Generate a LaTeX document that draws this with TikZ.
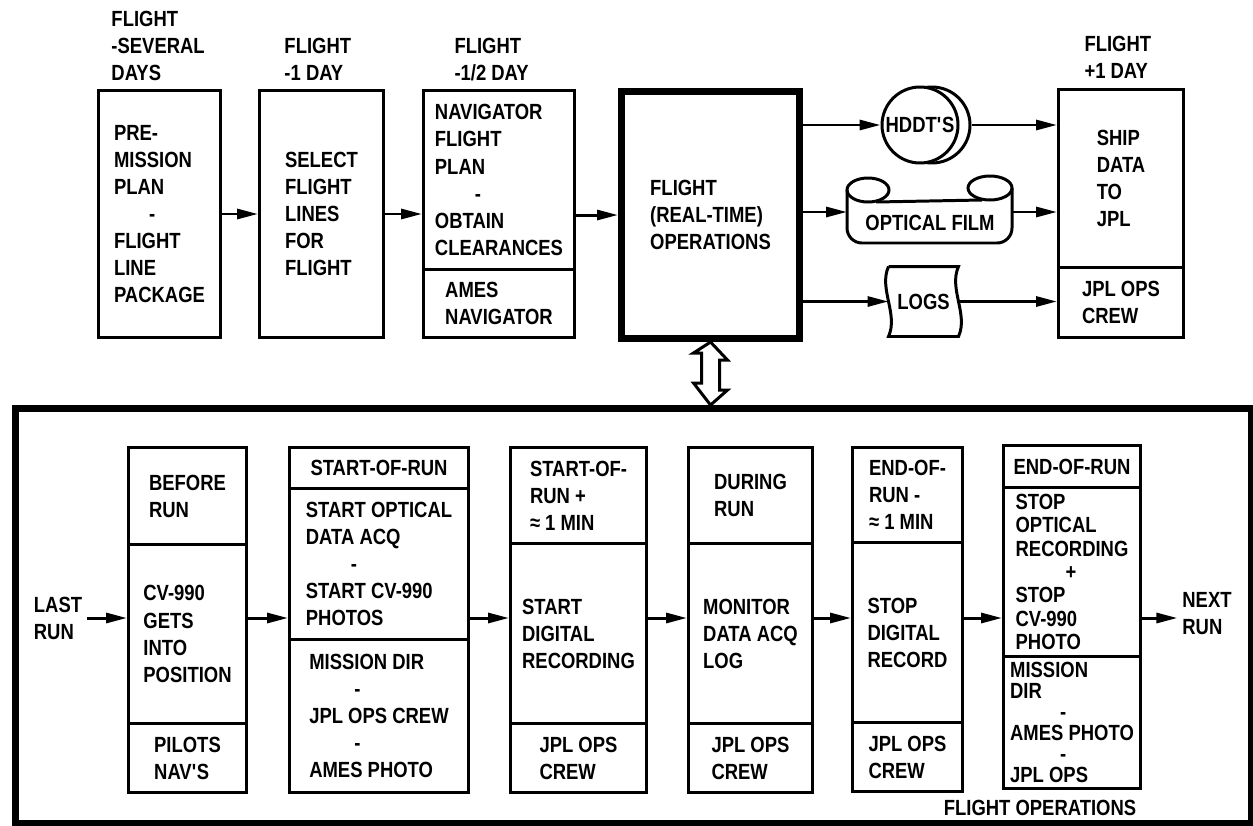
\documentclass[tikz,border=0pt]{standalone}
\usepackage{fontspec}
\setmainfont{Liberation Sans}[FakeStretch=0.84]
\usetikzlibrary{arrows.meta}

\newcommand\upx{0.02cm}

\tikzset{
  cell/.style 2 args={draw,anchor=north west,minimum width=#1*\upx,
    minimum height=#2*\upx,inner sep=0pt,align=left},
  when/.style={align=left,anchor=north west,inner sep=0pt},
  lbl/.style={align=left,inner sep=2pt},
  arr/.style={-{Triangle[length=.42cm,width=.2cm]}},
}

\begin{document}
\begin{tikzpicture}[x=.02cm,y=-.02cm,line width=1.7pt,
    font=\fontsize{12.5}{15.4}\selectfont\bfseries]
  \useasboundingbox (0,0) rectangle (1253,825);
  % Preparation before the flight, one box per stage.
  \node[when] (t1) at (110,10) {FLIGHT\\-SEVERAL\\DAYS};
  \node[when] (t2) at (283,37) {FLIGHT\\-1 DAY};
  \node[when] (t3) at (453,37) {FLIGHT\\-1/2 DAY};
  \node[when] (t5) at (1083,35) {FLIGHT\\+1 DAY};
  \node[cell={122}{247}] (prem) at (97,89)
    {PRE-\\MISSION\\PLAN\\\hspace*{.7cm}-\\FLIGHT\\LINE\\PACKAGE};
  \node[cell={124}{247}] (sel) at (258,89) {SELECT\\FLIGHT\\LINES\\FOR\\FLIGHT};
  \node[cell={151}{179}] (nav) at (422,89)
    {NAVIGATOR\\FLIGHT\\PLAN\\\hspace*{.8cm}-\\OBTAIN\\CLEARANCES};
  \node[cell={151}{68}] (navby) at (422,268) {AMES\\NAVIGATOR};
  \node[cell={178}{247},line width=4pt] (ops) at (618,88)
    {FLIGHT\\(REAL-TIME)\\OPERATIONS};
  \node[cell={125}{178}] (ship) at (1057,88) {SHIP\\DATA\\TO\\JPL};
  \node[cell={125}{70}] (shipby) at (1057,266) {JPL OPS\\CREW};
  % The recorded media.
  \node[circle,draw,minimum size=76*\upx] (hddtback) at (932,125) {};
  \node[circle,draw,fill=white,minimum size=76*\upx,inner sep=0pt] (hddt)
    at (920,125) {HDDT\textquotesingle S};
  \draw[rounded corners=.3cm] (847,190) -- (847,243) -- (1012,243) -- (1012,188);
  \draw (868,190) ellipse [x radius=21,y radius=12];
  \draw (990,188) ellipse [x radius=22,y radius=12];
  \draw (876,202) -- (982,200);
  \node (film) at (930,223) {OPTICAL FILM};
  \coordinate (filmin) at (847,212);
  \coordinate (filmout) at (1012,212);
  \node[minimum width=67*\upx,minimum height=67*\upx] (logs) at (923.5,301.5) {LOGS};
  \draw (logs.north west) -- (logs.north east)
    .. controls +(-10,22) and +(10,-22) .. (logs.south east) -- (logs.south west)
    .. controls +(10,-22) and +(-10,22) .. (logs.north west);
  \draw[arr] (prem) -- (sel);
  \draw[arr] (sel.east) -- (sel.east -| nav.west);
  \draw[arr] (nav.east |- ops.west) -- (ops.west);
  \draw[arr] (ops.east |- hddt.west) -- (hddt.west);
  \draw[arr] (ops.east |- filmin) -- (filmin);
  \draw[arr] (ops.east |- logs.west) -- (logs.west);
  \draw[arr] (hddtback.east) -- (hddtback.east -| ship.west);
  \draw[arr] (filmout) -- (filmout -| ship.west);
  \draw[arr] (logs.east) -- (logs.east -| shipby.west);
  % One run of the flight, inside the big frame.
  \node[cell={1236}{415},line width=4pt] (runs) at (12,405) {};
  \draw[fill=white] (ops.south) -- ++(17,18) -- ++(-8,0) -- ++(0,30) -- ++(8,0)
    -- (runs.north -| ops.south) -- ++(-17,-22) -- ++(8,0) -- ++(0,-30)
    -- ++(-8,0) -- cycle;
  \node[cell={118}{97}] (b1top) at (127,446) {BEFORE\\RUN};
  \node[cell={118}{179}] (b1mid) at (127,543) {CV-990\\GETS\\INTO\\POSITION};
  \node[cell={118}{69}] (b1bot) at (127,722) {PILOTS\\NAV\textquotesingle S};
  \node[cell={179}{41}] (b2top) at (288,446) {START-OF-RUN};
  \node[cell={179}{151}] (b2mid) at (288,487)
    {START OPTICAL\\DATA ACQ\\\hspace*{.9cm}-\\START CV-990\\PHOTOS};
  \node[cell={179}{153}] (b2bot) at (288,638)
    {MISSION DIR\\\hspace*{.9cm}-\\JPL OPS CREW\\\hspace*{.9cm}-\\AMES PHOTO};
  \node[cell={136}{96}] (b3top) at (509,446) {START-OF-\\RUN +\\≈ 1 MIN};
  \node[cell={136}{180}] (b3mid) at (509,542) {START\\DIGITAL\\RECORDING};
  \node[cell={136}{69}] (b3bot) at (509,722) {JPL OPS\\CREW};
  \node[cell={124}{96}] (b4top) at (687,446) {DURING\\RUN};
  \node[cell={124}{180}] (b4mid) at (687,542) {MONITOR\\DATA ACQ\\LOG};
  \node[cell={124}{69}] (b4bot) at (687,722) {JPL OPS\\CREW};
  \node[cell={110}{95}] (b5top) at (851,446) {END-OF-\\RUN -\\≈ 1 MIN};
  \node[cell={110}{180}] (b5mid) at (851,541) {STOP\\DIGITAL\\RECORD};
  \node[cell={110}{69}] (b5bot) at (851,721) {JPL OPS\\CREW};
  \node[cell={137}{42}] (b6top) at (1002,444) {END-OF-RUN};
  \node[cell={137}{169},font=\fontsize{12.5}{13.3}\selectfont\bfseries] (b6mid)
    at (1002,486) {STOP\\OPTICAL\\RECORDING\\\hspace*{1cm}+\\STOP\\CV-990\\PHOTO};
  \node[cell={137}{132},font=\fontsize{12.5}{12}\selectfont\bfseries] (b6bot)
    at (1002,655) {MISSION\\DIR\\\hspace*{1cm}-\\AMES PHOTO\\\hspace*{1cm}-\\JPL OPS};
  \node[lbl] (lastrun) at (58,618) {LAST\\RUN};
  \node[lbl] (nextrun) at (1207,614) {NEXT\\RUN};
  \node (caption) at (1040,808) {FLIGHT OPERATIONS};
  \draw[arr] (lastrun.east) -- (lastrun.east -| b1mid.west);
  \foreach \a/\b in {b1mid/b2mid,b2mid/b3mid,b3mid/b4mid,b4mid/b5mid,
      b5mid/b6mid,b6mid/nextrun} {
    \draw[arr] (\a.east |- lastrun.east) -- (\b.west |- lastrun.east);
  }
\end{tikzpicture}
\end{document}
